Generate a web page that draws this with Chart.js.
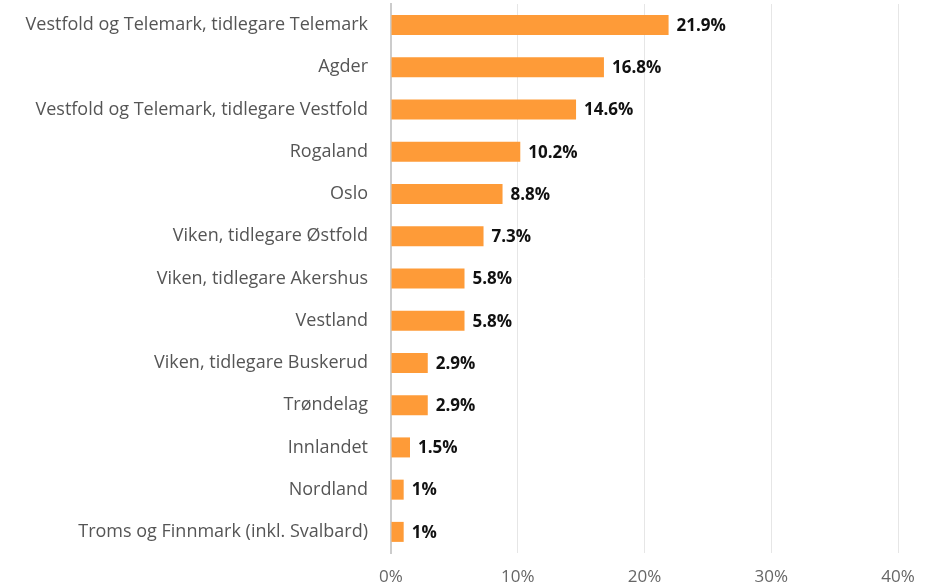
<!DOCTYPE html>
<html>
<head>
<meta charset="utf-8">
<script src="https://cdn.jsdelivr.net/npm/chart.js@4"></script>
<style>
    html, body { margin: 0; padding: 0; background: #fff; }
    canvas { display: block; }
</style>
</head>
<body>
<canvas id="regionChart" width="938" height="585"></canvas>
<script>
// 資料
const regions = [
    'Vestfold og Telemark, tidlegare Telemark',
    'Agder',
    'Vestfold og Telemark, tidlegare Vestfold',
    'Rogaland',
    'Oslo',
    'Viken, tidlegare Østfold',
    'Viken, tidlegare Akershus',
    'Vestland',
    'Viken, tidlegare Buskerud',
    'Trøndelag',
    'Innlandet',
    'Nordland',
    'Troms og Finnmark (inkl. Svalbard)'
];
const shares = [21.9, 16.8, 14.6, 10.2, 8.8, 7.3, 5.8, 5.8, 2.9, 2.9, 1.5, 1, 1];
const xTicks = [0, 10, 20, 30, 40];

const fontFamily = '"Open Sans", sans-serif';

// 數值標籤
const valueLabels = {
    id: 'valueLabels',
    afterDatasetsDraw(chart) {
        const ctx = chart.ctx;
        const meta = chart.getDatasetMeta(0);
        ctx.save();
        ctx.font = `bold 17px ${fontFamily}`;
        ctx.fillStyle = '#111';
        ctx.textAlign = 'left';
        ctx.textBaseline = 'middle';
        meta.data.forEach((bar, i) => {
            ctx.fillText(shares[i] + '%', bar.x + 8, bar.y + 1);
        });
        ctx.restore();
    }
};

new Chart(document.getElementById('regionChart'), {
    type: 'bar',
    data: {
        labels: regions,
        datasets: [{
            data: shares,
            backgroundColor: '#fe9b38',
            borderWidth: 0,
            barPercentage: 0.474,
            categoryPercentage: 1
        }]
    },
    options: {
        indexAxis: 'y',
        responsive: false,
        animation: false,
        layout: { padding: { top: 4, right: 40, left: 0, bottom: 0 } },
        plugins: {
            legend: { display: false },
            tooltip: { enabled: false }
        },
        scales: {
            x: {
                min: 0,
                max: 40,
                afterBuildTicks(scale) {
                    scale.ticks = xTicks.map(v => ({ value: v }));
                },
                afterFit(scale) { scale.height = 32; },
                grid: {
                    color: '#e6e6e6',
                    drawTicks: false
                },
                border: { display: false },
                ticks: {
                    color: '#666',
                    padding: 14,
                    maxRotation: 0,
                    font: { family: fontFamily, size: 17 },
                    callback: v => v + '%'
                }
            },
            y: {
                grid: { display: false, drawTicks: false },
                border: { display: true, color: '#ccc', width: 2 },
                afterFit(scale) {
                    scale.width = 391;
                    scale.paddingTop = 0;
                    scale.paddingBottom = 0;
                },
                ticks: {
                    color: '#555',
                    padding: 23,
                    autoSkip: false,
                    font: { family: fontFamily, size: 18 }
                }
            }
        }
    },
    plugins: [valueLabels]
});
</script>
</body>
</html>
